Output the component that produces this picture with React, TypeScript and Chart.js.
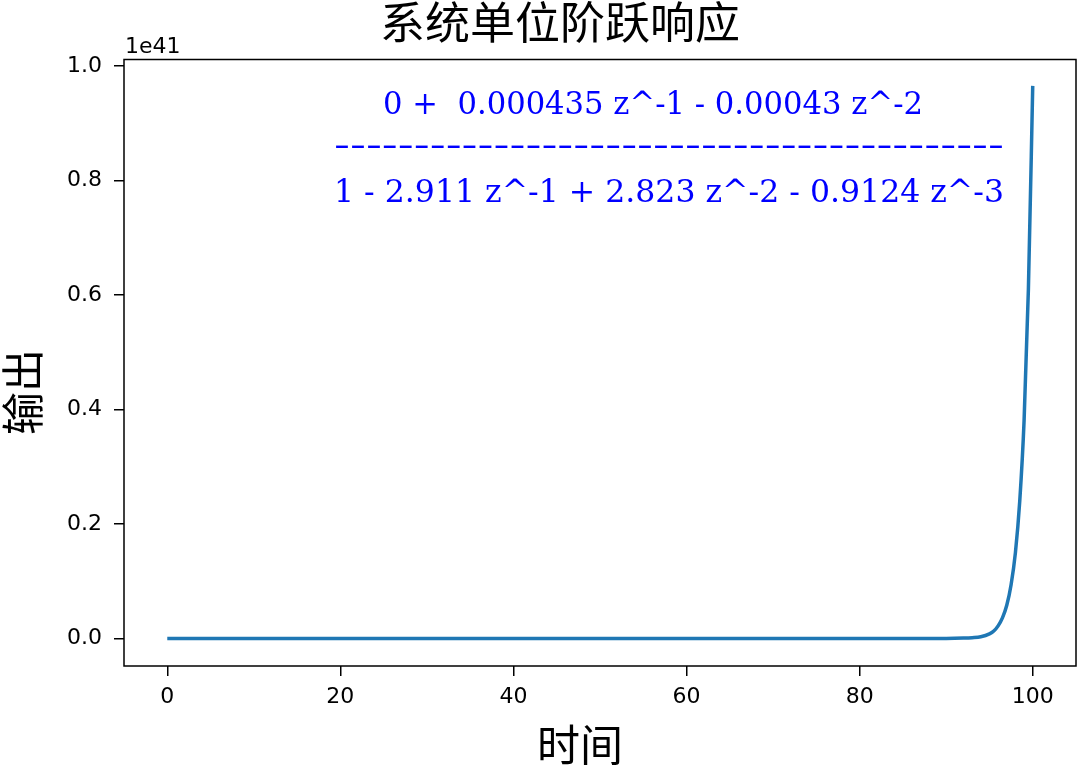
import React, { useEffect, useRef } from "react";
import { Chart, registerables } from "chart.js";

Chart.register(...registerables);

const titleText = "系统单位阶跃响应";
const xLabel = "时间";
const yLabel = "输出";
const offsetLabel = "1e41";
const numeratorText = "0 +  0.000435 z^-1 - 0.00043 z^-2";
const dividerText = "-".repeat(42);
const denominatorText = "1 - 2.911 z^-1 + 2.823 z^-2 - 0.9124 z^-3";

// time axis samples and output (in units of 1e41)
const timePoints = [0, 10, 20, 30, 40, 50, 60, 70, 80, 90, 92, 93, 94, 95, 95.5, 96, 96.5, 97, 97.5, 98, 98.5, 99, 99.5, 100];
const outputValues = [0, 0, 0, 0, 0, 0, 0, 0, 0, 0.0002, 0.0008, 0.0015, 0.003, 0.008, 0.013, 0.022, 0.036, 0.058, 0.094, 0.15, 0.24, 0.38, 0.61, 0.965];

const xTickValues = [0, 20, 40, 60, 80, 100];
const yTickValues = [0, 0.2, 0.4, 0.6, 0.8, 1.0];

const lineColor = "#1f77b4";
const tickFont = "DejaVu Sans";
const cjkFont = "'Noto Sans CJK SC'";
const eqFont = "'DejaVu Serif'";

function fitText(ctx: CanvasRenderingContext2D, text: string, cx: number, cy: number, width: number) {
  const w = ctx.measureText(text).width;
  ctx.save();
  ctx.translate(cx, cy);
  ctx.scale(width / w, 1);
  ctx.textAlign = "center";
  ctx.textBaseline = "middle";
  ctx.fillText(text, 0, 0);
  ctx.restore();
}

const decorPlugin = {
  id: "decor",
  afterDraw(chart: any) {
    const ctx: CanvasRenderingContext2D = chart.ctx;
    const a = chart.chartArea;
    ctx.save();
    // frame
    ctx.strokeStyle = "#000";
    ctx.lineWidth = 1.5;
    ctx.strokeRect(a.left, a.top, a.right - a.left, a.bottom - a.top);

    // title
    ctx.fillStyle = "#000";
    ctx.font = `44px ${cjkFont}`;
    fitText(ctx, titleText, 560, 22, 360);

    // x label
    ctx.font = `43px ${cjkFont}`;
    ctx.textAlign = "center";
    ctx.textBaseline = "middle";
    ctx.fillText(xLabel, 580, 745);

    // y label
    ctx.save();
    ctx.translate(23, 392);
    ctx.rotate(-Math.PI / 2);
    ctx.fillText(yLabel, 0, 0);
    ctx.restore();

    // offset text
    ctx.font = `22px ${tickFont}`;
    ctx.textAlign = "left";
    ctx.textBaseline = "alphabetic";
    ctx.fillText(offsetLabel, 125, 53);

    // transfer function
    ctx.fillStyle = "#0000ff";
    ctx.font = `31px ${eqFont}`;
    fitText(ctx, numeratorText, 653, 106, 540);
    fitText(ctx, dividerText, 669, 147, 670);
    fitText(ctx, denominatorText, 669, 194, 670);
    ctx.restore();
  },
};

export default function App() {
  const ref = useRef<HTMLCanvasElement | null>(null);
  useEffect(() => {
    if (!ref.current) return;
    const chart = new Chart(ref.current, {
      type: "line",
      data: {
        datasets: [
          {
            data: timePoints.map((t, i) => ({ x: t, y: outputValues[i] })),
            borderColor: lineColor,
            borderWidth: 3.5,
            pointRadius: 0,
            cubicInterpolationMode: "monotone",
            fill: false,
          },
        ],
      },
      options: {
        animation: false,
        responsive: false,
        devicePixelRatio: 1,
        layout: { padding: { top: 59.5, right: 4, bottom: 0, left: 0 } },
        plugins: { legend: { display: false }, tooltip: { enabled: false }, title: { display: false } },
        scales: {
          x: {
            type: "linear",
            min: -5,
            max: 105,
            border: { display: false },
            grid: { display: true, drawOnChartArea: false, drawTicks: true, tickLength: 10, color: "#000", lineWidth: 1.5 },
            ticks: { color: "#000", font: { family: tickFont, size: 22 }, padding: 8, maxRotation: 0 },
            afterBuildTicks: (s: any) => {
              s.ticks = xTickValues.map((v) => ({ value: v }));
            },
            afterFit: (s: any) => {
              s.height = 102;
            },
          },
          y: {
            type: "linear",
            min: -0.048,
            max: 1.011,
            border: { display: false },
            grid: { display: true, drawOnChartArea: false, drawTicks: true, tickLength: 10, color: "#000", lineWidth: 1.5 },
            ticks: {
              color: "#000",
              font: { family: tickFont, size: 22 },
              padding: 12,
              callback: (v: any) => Number(v).toFixed(1),
            },
            afterBuildTicks: (s: any) => {
              s.ticks = yTickValues.map((v) => ({ value: v }));
            },
            afterFit: (s: any) => {
              s.width = 124;
            },
          },
        },
      },
      plugins: [decorPlugin],
    } as any);
    return () => chart.destroy();
  }, []);
  return (
    <div style={{ position: "absolute", left: 0, top: 0, width: 1080, height: 768, background: "#fff" }}>
      <canvas ref={ref} width={1080} height={768} style={{ display: "block" }} />
    </div>
  );
}
